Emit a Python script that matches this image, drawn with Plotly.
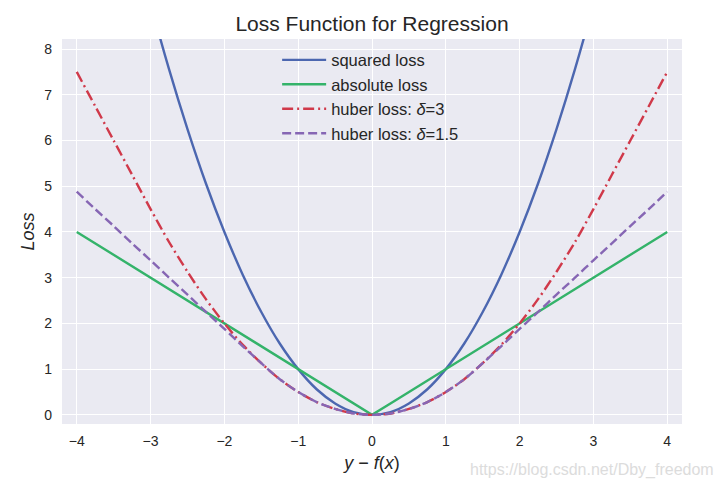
import plotly.graph_objects as go

# Residual values y - f(x)
x_vals = [-4.0, -3.75, -3.5, -3.25, -3.0, -2.75, -2.5, -2.25, -2.0, -1.75, -1.5, -1.25, -1.0,
          -0.75, -0.5, -0.25, 0.0, 0.25, 0.5, 0.75, 1.0, 1.25, 1.5, 1.75, 2.0, 2.25, 2.5,
          2.75, 3.0, 3.25, 3.5, 3.75, 4.0]

squared_loss = [16.0, 14.06, 12.25, 10.56, 9.0, 7.56, 6.25, 5.06, 4.0, 3.06, 2.25, 1.56, 1.0,
                0.56, 0.25, 0.06, 0.0, 0.06, 0.25, 0.56, 1.0, 1.56, 2.25, 3.06, 4.0, 5.06, 6.25,
                7.56, 9.0, 10.56, 12.25, 14.06, 16.0]

absolute_loss = [4.0, 3.75, 3.5, 3.25, 3.0, 2.75, 2.5, 2.25, 2.0, 1.75, 1.5, 1.25, 1.0,
                 0.75, 0.5, 0.25, 0.0, 0.25, 0.5, 0.75, 1.0, 1.25, 1.5, 1.75, 2.0, 2.25, 2.5,
                 2.75, 3.0, 3.25, 3.5, 3.75, 4.0]

huber_3 = [7.5, 6.75, 6.0, 5.25, 4.5, 3.78, 3.13, 2.53, 2.0, 1.53, 1.13, 0.78, 0.5,
           0.28, 0.13, 0.03, 0.0, 0.03, 0.13, 0.28, 0.5, 0.78, 1.13, 1.53, 2.0, 2.53, 3.13,
           3.78, 4.5, 5.25, 6.0, 6.75, 7.5]

huber_15 = [4.88, 4.5, 4.13, 3.75, 3.38, 3.0, 2.63, 2.25, 1.88, 1.5, 1.13, 0.78, 0.5,
            0.28, 0.13, 0.03, 0.0, 0.03, 0.13, 0.28, 0.5, 0.78, 1.13, 1.5, 1.88, 2.25, 2.63,
            3.0, 3.38, 3.75, 4.13, 4.5, 4.88]

x_ticks = [-4, -3, -2, -1, 0, 1, 2, 3, 4]
x_tick_labels = ["−4", "−3", "−2", "−1", "0", "1", "2", "3", "4"]
y_ticks = [0, 1, 2, 3, 4, 5, 6, 7, 8]

FONT = "Liberation Sans, Arial, sans-serif"
LW = 2.4

fig = go.Figure()
fig.add_trace(go.Scatter(x=x_vals, y=squared_loss, mode="lines", name="squared loss",
                         line=dict(color="#4C67B0", width=LW, shape="spline", smoothing=1.0)))
fig.add_trace(go.Scatter(x=x_vals, y=absolute_loss, mode="lines", name="absolute loss",
                         line=dict(color="#34B36A", width=LW)))
fig.add_trace(go.Scatter(x=x_vals, y=huber_3, mode="lines", name="huber loss: <i>δ</i>=3",
                         line=dict(color="#D0394A", width=LW, shape="spline", smoothing=0.8,
                                   dash="11px,4px,2px,4px")))
fig.add_trace(go.Scatter(x=x_vals, y=huber_15, mode="lines", name="huber loss: <i>δ</i>=1.5",
                         line=dict(color="#8666B4", width=LW, shape="spline", smoothing=0.8,
                                   dash="9px,4px")))

fig.update_layout(
    width=728, height=490,
    margin=dict(l=62, r=46, t=39, b=66, autoexpand=False),
    paper_bgcolor="white",
    plot_bgcolor="#EAEAF2",
    font=dict(family=FONT, color="#262626", size=13),
    title=dict(text="Loss Function for Regression", x=0.5, xref="paper", xanchor="center",
               y=1 - 24 / 490, yref="container", yanchor="middle", automargin=False,
               font=dict(size=21, color="#262626", family=FONT)),
    showlegend=True,
    legend=dict(x=0.347, y=0.9906, xanchor="left", yanchor="top", itemwidth=44,
                bgcolor="rgba(0,0,0,0)", font=dict(size=16.5, family=FONT, color="#262626"),
                tracegroupgap=0),
    xaxis=dict(range=[-4.2, 4.2], tickvals=x_ticks, ticktext=x_tick_labels, automargin=False,
               showgrid=True, gridcolor="white", gridwidth=1.3, zeroline=False, showline=False,
               ticks="", ticklabelstandoff=7, tickfont=dict(size=14),
               title=dict(text="<i>y</i> − <i>f</i>(<i>x</i>)", font=dict(size=18), standoff=8)),
    yaxis=dict(range=[-0.2, 8.22], tickvals=y_ticks, automargin=False,
               showgrid=True, gridcolor="white", gridwidth=1.3, zeroline=False, showline=False,
               ticks="", ticklabelstandoff=9, tickfont=dict(size=14),
               title=dict(text="<i>Loss</i>", font=dict(size=18), standoff=4)),
)

fig.add_annotation(text="https://blog.csdn.net/Dby_freedom", xref="paper", yref="paper",
                   x=(716 - 62) / 620, y=-(470 - 424) / 385, xanchor="right", yanchor="middle",
                   showarrow=False,
                   font=dict(size=16, color="#DCDCDC", family="Liberation Sans Narrow, Liberation Sans, sans-serif"))

fig.write_html("out.html", config={"displayModeBar": False})

# remove the default browser body margin so the figure sits at the page origin
with open("out.html", "r", encoding="utf-8") as fh:
    html = fh.read()
html = html.replace("<body>", '<body style="margin:0;padding:0;overflow:hidden">', 1)
with open("out.html", "w", encoding="utf-8") as fh:
    fh.write(html)
